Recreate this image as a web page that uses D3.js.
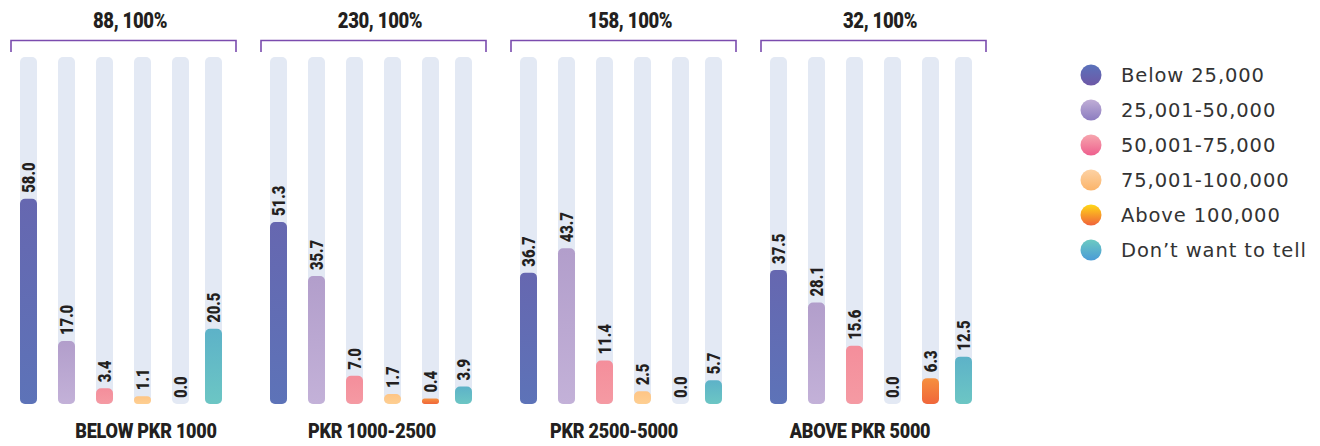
<!DOCTYPE html>
<html>
<head>
<meta charset="utf-8">
<script src="https://cdn.jsdelivr.net/npm/d3@7"></script>
<style>
  html, body { margin: 0; padding: 0; background: #ffffff; }
  svg { display: block; }
  .cond { font-family: Roboto, "Liberation Sans", sans-serif; font-weight: 900; }
  .legend-text { font-family: "DejaVu Sans", "Noto Sans", sans-serif; font-weight: 400; }
</style>
</head>
<body>
<svg id="chart" width="1320" height="446"></svg>
<script>
// Monthly household income by spending bracket (% of respondents)
const groups = ["BELOW PKR 1000", "PKR 1000-2500", "PKR 2500-5000", "ABOVE PKR 5000"];
const groupTotals = [88, 230, 158, 32];
const series = ["Below 25,000", "25,001-50,000", "50,001-75,000", "75,001-100,000", "Above 100,000", "Don\u2019t want to tell"];

const below25k   = [58.0, 51.3, 36.7, 37.5];
const from25to50 = [17.0, 35.7, 43.7, 28.1];
const from50to75 = [3.4, 7.0, 11.4, 15.6];
const from75to100 = [1.1, 1.7, 2.5, 0.0];
const above100k  = [0.0, 0.4, 0.0, 6.3];
const noAnswer   = [20.5, 3.9, 5.7, 12.5];
const seriesValues = [below25k, from25to50, from50to75, from75to100, above100k, noAnswer];

const maxPct = 100;

// bar fills (top colour, bottom colour) and legend dot fills
const barGrad = [
  ["#6667b0", "#5d73b8"],
  ["#b29ecb", "#c3b1d8"],
  ["#f48e9b", "#f59aa3"],
  ["#fec585", "#fecf92"],
  ["#f6903f", "#f0663a"],
  ["#5db2c8", "#6cc6c4"]
];
const dotGrad = [
  ["#5a72bb", "#6e58a6"],
  ["#c0aed6", "#8c7cc0"],
  ["#f6a6ae", "#ee5f8e"],
  ["#fdd2a4", "#fbb46a"],
  ["#ffd817", "#f0623b"],
  ["#6ccac2", "#4a9bd6"]
];

const svg = d3.select("#chart");
const defs = svg.append("defs");
function addGrad(id, c) {
  const g = defs.append("linearGradient").attr("id", id)
    .attr("x1", 0).attr("y1", 0).attr("x2", 0).attr("y2", 1);
  g.append("stop").attr("offset", "0%").attr("stop-color", c[0]);
  g.append("stop").attr("offset", "100%").attr("stop-color", c[1]);
}
barGrad.forEach((c, i) => addGrad("bar" + i, c));
dotGrad.forEach((c, i) => addGrad("dot" + i, c));

// layout
const baseY = 404, topY = 57;
const barW = 17, capPad = 4;
const narrow = 0.86; // horizontal squeeze for the condensed headings/labels
const x0 = d3.scaleBand().domain(groups).range([20, 1020]).paddingInner(0).paddingOuter(0);
const x1 = d3.scaleOrdinal().domain(series).range([0, 38, 76, 114, 152, 185]);
const y = d3.scaleLinear().domain([0, maxPct]).range([baseY, topY]);
const labelNudge = [25, 1, -7, -11];

const g = svg.append("g");

groups.forEach((grp, gi) => {
  const gx = x0(grp);
  const gg = g.append("g").attr("transform", `translate(${gx},0)`);

  // bracket over each group
  gg.append("path")
    .attr("d", `M-9,52 V40.5 H216 V52`)
    .attr("fill", "none").attr("stroke", "#7b4cae").attr("stroke-width", 1.6);

  gg.append("g").attr("transform", `translate(110,28) scale(${narrow},1)`)
    .append("text").attr("class", "cond")
    .attr("text-anchor", "middle")
    .attr("font-size", 21.5).attr("fill", "#231f20")
    .attr("letter-spacing", -0.4)
    .text(`${groupTotals[gi]}, 100%`);

  const rows = series.map((s, si) => ({ s, si, v: seriesValues[si][gi] }));

  // background tracks
  gg.selectAll("rect.track").data(rows).join("rect")
    .attr("class", "track")
    .attr("x", d => x1(d.s)).attr("width", barW)
    .attr("y", y(maxPct)).attr("height", baseY - y(maxPct))
    .attr("rx", 5).attr("fill", "#e3e9f4");

  // value bars
  gg.selectAll("rect.bar").data(rows.filter(d => d.v > 0)).join("rect")
    .attr("class", "bar")
    .attr("x", d => x1(d.s)).attr("width", barW)
    .attr("y", d => y(d.v) - capPad)
    .attr("height", d => baseY - y(d.v) + capPad)
    .attr("rx", d => Math.min(5, (baseY - y(d.v) + capPad) / 2))
    .attr("fill", d => `url(#bar${d.si})`);

  // value labels, rotated
  gg.selectAll("g.val").data(rows).join("g")
    .attr("class", "val")
    .attr("transform", d => {
      const top = d.v > 0 ? y(d.v) - capPad : baseY;
      return `translate(${x1(d.s) + barW / 2},${top - 6}) rotate(-90) scale(0.8,1)`;
    })
    .append("text").attr("class", "cond")
    .attr("dy", "0.36em")
    .attr("font-size", 18.5).attr("fill", "#231f20")
    .text(d => d.v.toFixed(1));

  // group label under the bars
  gg.append("g").attr("transform", `translate(${101 + labelNudge[gi]},438) scale(${narrow},1)`)
    .append("text").attr("class", "cond")
    .attr("text-anchor", "middle")
    .attr("font-size", 21).attr("fill", "#231f20")
    .attr("letter-spacing", -0.3)
    .text(grp);
});

// legend
const ly = d3.scalePoint().domain(series).range([75, 250]);
const lg = svg.append("g").attr("transform", "translate(1091,0)");
lg.selectAll("circle").data(series).join("circle")
  .attr("cx", 0).attr("cy", d => ly(d)).attr("r", 10.5)
  .attr("fill", (d, i) => `url(#dot${i})`);
lg.selectAll("text").data(series).join("text")
  .attr("class", "legend-text")
  .attr("x", 30).attr("y", d => ly(d)).attr("dy", "0.36em")
  .attr("font-size", 19.5).attr("fill", "#333333")
  .attr("letter-spacing", 0.9)
  .text(d => d);
</script>
</body>
</html>
